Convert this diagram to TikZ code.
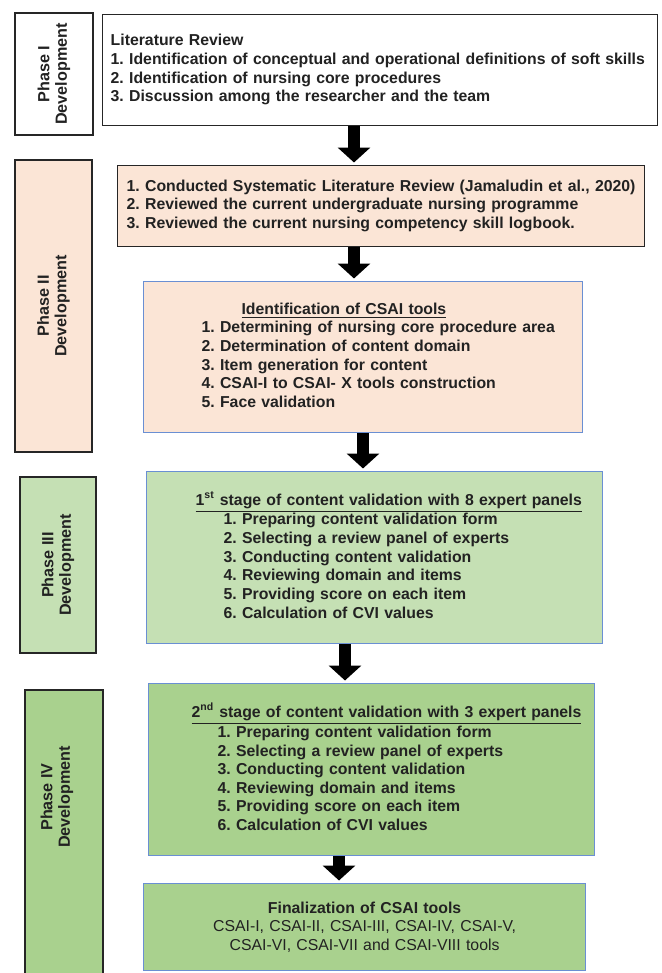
\documentclass[tikz,border=0pt]{standalone}
\usepackage{fontspec}
\setmainfont{Liberation Sans}
\usetikzlibrary{shapes,arrows.meta,positioning}
\definecolor{peach}{HTML}{FBE5D6}
\definecolor{lgreen}{HTML}{C5E0B4}
\definecolor{mgreen}{HTML}{A9D18E}
\definecolor{edgeblue}{HTML}{6A8FD3}
\definecolor{txt}{HTML}{222222}
\frenchspacing
\tikzstyle{phase} = [rectangle, draw=black!85, line width=0.8pt, rotate=90, align=center, text=txt, font=\bfseries\fontsize{9.2}{10}\selectfont]
\tikzstyle{process} = [rectangle, draw=black!85, line width=0.8pt, anchor=north west, inner xsep=0pt, inner ysep=0pt, align=left, text=txt, font=\bfseries\fontsize{9}{10.6}\selectfont]
\tikzstyle{stage} = [process, draw=edgeblue, line width=0.7pt]
\tikzstyle{arrow} = [line width=0.25cm, -{Triangle[width=0.64cm,length=0.3cm]}, shorten >=0.05cm]

\begin{document}
\begin{tikzpicture}[x=0.02cm, y=-0.02cm]
	\useasboundingbox (0,0) rectangle (662,973);
	% phase boxes on the left
	\node (ph1) [phase, fill=white, minimum width=2.44cm, minimum height=1.56cm] at (54,74) {Phase I\\Development};
	\node (ph2) [phase, fill=peach, minimum width=5.84cm, minimum height=1.54cm] at (53.5,306) {Phase II\\Development};
	\node (ph3) [phase, fill=lgreen, minimum width=3.52cm, minimum height=1.52cm] at (58,565) {Phase III\\Development};
	\node (ph4) [phase, fill=mgreen, minimum width=6.4cm, minimum height=1.56cm] at (64,850) {};
	\node (ph4t) [phase, draw=none] at (57,797) {Phase IV\\Development};
	% main steps
	\node (b1) [process, fill=white, text width=11.1cm, minimum height=2.22cm] at (102,14) {\hspace*{0.16cm}\begin{tabular}{@{}l@{}}
		Literature Review\\
		1. Identification of conceptual and operational definitions of soft skills\\
		2. Identification of nursing core procedures\\
		3. Discussion among the researcher and the team\end{tabular}};
	\node (b2) [process, fill=peach, text width=10.54cm, minimum height=1.62cm] at (117,165) {\hspace*{0.18cm}\begin{tabular}{@{}l@{}}
		1. Conducted Systematic Literature Review (Jamaludin et al., 2020)\\
		2. Reviewed the current undergraduate nursing programme\\
		3. Reviewed the current nursing competency skill logbook.\end{tabular}};
	\node (b3) [stage, fill=peach, text width=8.78cm, minimum height=3.02cm] at (143,281) {\hspace*{1.16cm}\begin{tabular}{@{}l@{}}
		\hspace*{0.8cm}\underline{Identification of CSAI tools}\\
		1. Determining of nursing core procedure area\\
		2. Determination of content domain\\
		3. Item generation for content\\
		4. CSAI-I to CSAI- X tools construction\\
		5. Face validation\end{tabular}};
	\node (b4) [stage, fill=lgreen, text width=9.12cm, minimum height=3.44cm] at (146,471) {\hspace*{0.98cm}\begin{tabular}{@{}l@{}}
		\underline{1\textsuperscript{st} stage of content validation with 8 expert panels}\\
		\hspace*{0.56cm}1. Preparing content validation form\\
		\hspace*{0.56cm}2. Selecting a review panel of experts\\
		\hspace*{0.56cm}3. Conducting content validation\\
		\hspace*{0.56cm}4. Reviewing domain and items\\
		\hspace*{0.56cm}5. Providing score on each item\\
		\hspace*{0.56cm}6. Calculation of CVI values\end{tabular}};
	\node (b5) [stage, fill=mgreen, text width=8.92cm, minimum height=3.44cm] at (148,683) {\hspace*{0.86cm}\begin{tabular}{@{}l@{}}
		\underline{2\textsuperscript{nd} stage of content validation with 3 expert panels}\\
		\hspace*{0.52cm}1. Preparing content validation form\\
		\hspace*{0.52cm}2. Selecting a review panel of experts\\
		\hspace*{0.52cm}3. Conducting content validation\\
		\hspace*{0.52cm}4. Reviewing domain and items\\
		\hspace*{0.52cm}5. Providing score on each item\\
		\hspace*{0.52cm}6. Calculation of CVI values\end{tabular}};
	\node (b6) [stage, fill=mgreen, text width=8.84cm, minimum height=1.74cm, align=center] at (143,883) {Finalization of CSAI tools\\
		\mdseries CSAI-I, CSAI-II, CSAI-III, CSAI-IV, CSAI-V,\\
		\mdseries CSAI-VI, CSAI-VII and CSAI-VIII tools};
	% block arrows
	\coordinate (ax1) at (354,0);
	\coordinate (ax2) at (354,0);
	\coordinate (ax3) at (363,0);
	\coordinate (ax4) at (345,0);
	\coordinate (ax5) at (339,0);
	\draw [arrow] (b1.south -| ax1) -- (b2.north -| ax1);
	\draw [arrow] (b2.south -| ax2) -- (b3.north -| ax2);
	\draw [arrow] (b3.south -| ax3) -- (b4.north -| ax3);
	\draw [arrow] (b4.south -| ax4) -- (b5.north -| ax4);
	\draw [arrow] (b5.south -| ax5) -- (b6.north -| ax5);
\end{tikzpicture}
\end{document}
